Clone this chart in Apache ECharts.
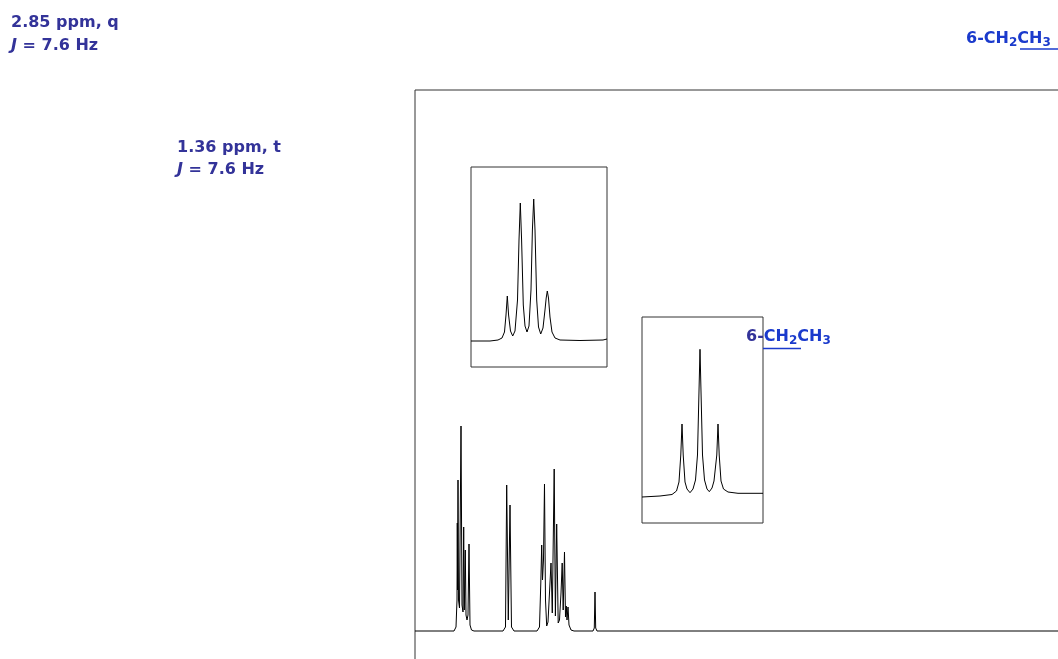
<!DOCTYPE html>
<html>
<head>
<meta charset="utf-8">
<script src="https://cdn.jsdelivr.net/npm/echarts@6/dist/echarts.min.js"></script>
<style>
  html, body { margin: 0; padding: 0; background: #fff; }
  #chart { width: 1058px; height: 659px; }
</style>
</head>
<body>
<div id="chart"></div>
<script>
// aromatic region, [shift (ppm), intensity]
var aromatic = [
  [9.5, 0], [9.0125, 0], [8.9875, 4], [8.975, 31], [8.9713, 108], [8.9675, 41],
  [8.9625, 151], [8.9563, 31], [8.9438, 23], [8.925, 205], [8.9125, 26], [8.9, 19],
  [8.8913, 104], [8.8838, 21], [8.8713, 81], [8.8625, 16], [8.85, 11], [8.8375, 16],
  [8.825, 87], [8.8125, 6], [8.7938, 1], [8.7625, 0],
  [8.4, 0], [8.3688, 4], [8.3538, 146], [8.3338, 11], [8.3125, 126], [8.2938, 4], [8.2625, 0],
  [7.975, 0], [7.9438, 4], [7.9275, 48], [7.9163, 86], [7.9063, 51], [7.8938, 71],
  [7.8813, 147], [7.8688, 31], [7.8538, 5], [7.8375, 9], [7.8, 68], [7.7838, 18],
  [7.76, 162], [7.745, 15], [7.7288, 107], [7.71, 8], [7.6938, 11], [7.675, 38],
  [7.66, 68], [7.6475, 21], [7.6313, 79], [7.6188, 14], [7.6088, 25], [7.6, 11],
  [7.5875, 24], [7.575, 6], [7.55, 1], [7.5125, 0],
  [7.275, 0], [7.2588, 3], [7.25, 39], [7.2413, 3], [7.225, 0],
  [-0.5, 0]
];

// 2.85 ppm quartet, [offset from centre (Hz), intensity]
var quartet = [
  [32.17, 0], [21.31, 0], [16.74, 1], [14.46, 3], [13.03, 9], [12.17, 26], [11.43, 45],
  [10.69, 26], [9.6, 10], [8.34, 5], [7.03, 10], [5.6, 41], [4.74, 101], [4.0, 138],
  [3.26, 101], [2.29, 36], [1.31, 15], [0.17, 9], [-0.97, 15], [-2.11, 51], [-2.91, 111],
  [-3.66, 142], [-4.4, 111], [-5.37, 41], [-6.4, 14], [-7.66, 7], [-8.97, 13], [-10.11, 31],
  [-10.8, 43], [-11.43, 50], [-12.11, 43], [-12.97, 24], [-14.11, 9], [-15.83, 3],
  [-18.69, 1], [-30.11, 0.5], [-43.26, 1], [-45.54, 2]
];

// 1.36 ppm triplet, [offset from centre (Hz), intensity]
var triplet = [
  [24.49, 0], [16.89, 1], [11.82, 2.5], [9.92, 6], [8.87, 15], [8.11, 42], [7.6, 73],
  [7.09, 42], [6.33, 15], [5.49, 8], [4.22, 4.3], [2.96, 8], [1.9, 17], [1.06, 42],
  [0.51, 97], [0, 147.7], [-0.51, 97], [-1.06, 42], [-1.9, 17], [-2.96, 8], [-3.93, 5.3],
  [-5.07, 9], [-5.91, 16], [-7.09, 42], [-7.6, 73], [-8.11, 42], [-8.87, 16], [-9.92, 8],
  [-11.82, 5], [-16.05, 3.7], [-26.6, 3.7]
];

var quartetLabel = ['2.85 ppm, q', 'J', ' = 7.6 Hz'];
var tripletLabel = ['1.36 ppm, t', 'J', ' = 7.6 Hz'];

var navy = '#333399';
var blue = '#1a3acc';
var font = 'DejaVu Sans';

var chart = echarts.init(document.getElementById('chart'));

function jRich(lh) {
  return {
    n: { fontFamily: font, fontWeight: 'bold', fontSize: 16, lineHeight: lh, fill: navy },
    i: { fontFamily: font, fontWeight: 'bold', fontStyle: 'italic', fontSize: 16, lineHeight: lh, fill: navy }
  };
}

function chRich(first) {
  return {
    a: { fontFamily: font, fontWeight: 'bold', fontSize: 16, lineHeight: 20, fill: first },
    b: { fontFamily: font, fontWeight: 'bold', fontSize: 16, lineHeight: 20, fill: blue },
    s: { fontFamily: font, fontWeight: 'bold', fontSize: 12, lineHeight: 11, verticalAlign: 'bottom', fill: blue }
  };
}

var frame = { show: true, borderColor: '#333', borderWidth: 1, outerBoundsMode: 'none' };

chart.setOption({
  animation: false,
  backgroundColor: '#fff',
  grid: [
    Object.assign({ left: 415, top: 90, width: 800, height: 741, backgroundColor: 'transparent' }, frame),
    Object.assign({ left: 471, top: 167, width: 136, height: 200, backgroundColor: '#fff' }, frame),
    Object.assign({ left: 642, top: 317, width: 121, height: 206, backgroundColor: '#fff' }, frame)
  ],
  xAxis: [
    { type: 'value', gridIndex: 0, min: -0.5, max: 9.5, inverse: true, show: false },
    { type: 'value', gridIndex: 1, min: -45.54, max: 32.17, inverse: true, show: false },
    { type: 'value', gridIndex: 2, min: -26.6, max: 24.49, inverse: true, show: false }
  ],
  yAxis: [
    { type: 'value', gridIndex: 0, min: -200, max: 541, show: false },
    { type: 'value', gridIndex: 1, min: -26, max: 174, show: false },
    { type: 'value', gridIndex: 2, min: -26, max: 180, show: false }
  ],
  series: [
    { type: 'line', xAxisIndex: 0, yAxisIndex: 0, data: aromatic, showSymbol: false, lineStyle: { color: '#000', width: 1 } },
    { type: 'line', xAxisIndex: 1, yAxisIndex: 1, data: quartet, showSymbol: false, lineStyle: { color: '#000', width: 1 } },
    { type: 'line', xAxisIndex: 2, yAxisIndex: 2, data: triplet, showSymbol: false, lineStyle: { color: '#000', width: 1 } }
  ],
  graphic: [
    {
      type: 'text', left: 11, top: 15,
      style: {
        text: '{n|' + quartetLabel[0] + '}\n{i|' + quartetLabel[1] + '}{n|' + quartetLabel[2] + '}',
        rich: jRich(23)
      }
    },
    {
      type: 'text', left: 177, top: 140,
      style: {
        text: '{n|' + tripletLabel[0] + '}\n{i|' + tripletLabel[1] + '}{n|' + tripletLabel[2] + '}',
        rich: jRich(22)
      }
    },
    {
      type: 'text', left: 966, top: 31,
      style: { text: '{a|6-CH}{s|2}{b|CH}{s|3}', rich: chRich(blue) }
    },
    {
      type: 'text', left: 746, top: 329,
      style: { text: '{a|6-}{b|CH}{s|2}{b|CH}{s|3}', rich: chRich(navy) }
    },
    { type: 'line', shape: { x1: 1020, y1: 49, x2: 1058, y2: 49 }, style: { stroke: blue, lineWidth: 1.5 } },
    { type: 'line', shape: { x1: 763, y1: 348.5, x2: 801, y2: 348.5 }, style: { stroke: blue, lineWidth: 1.5 } }
  ]
});
</script>
</body>
</html>
